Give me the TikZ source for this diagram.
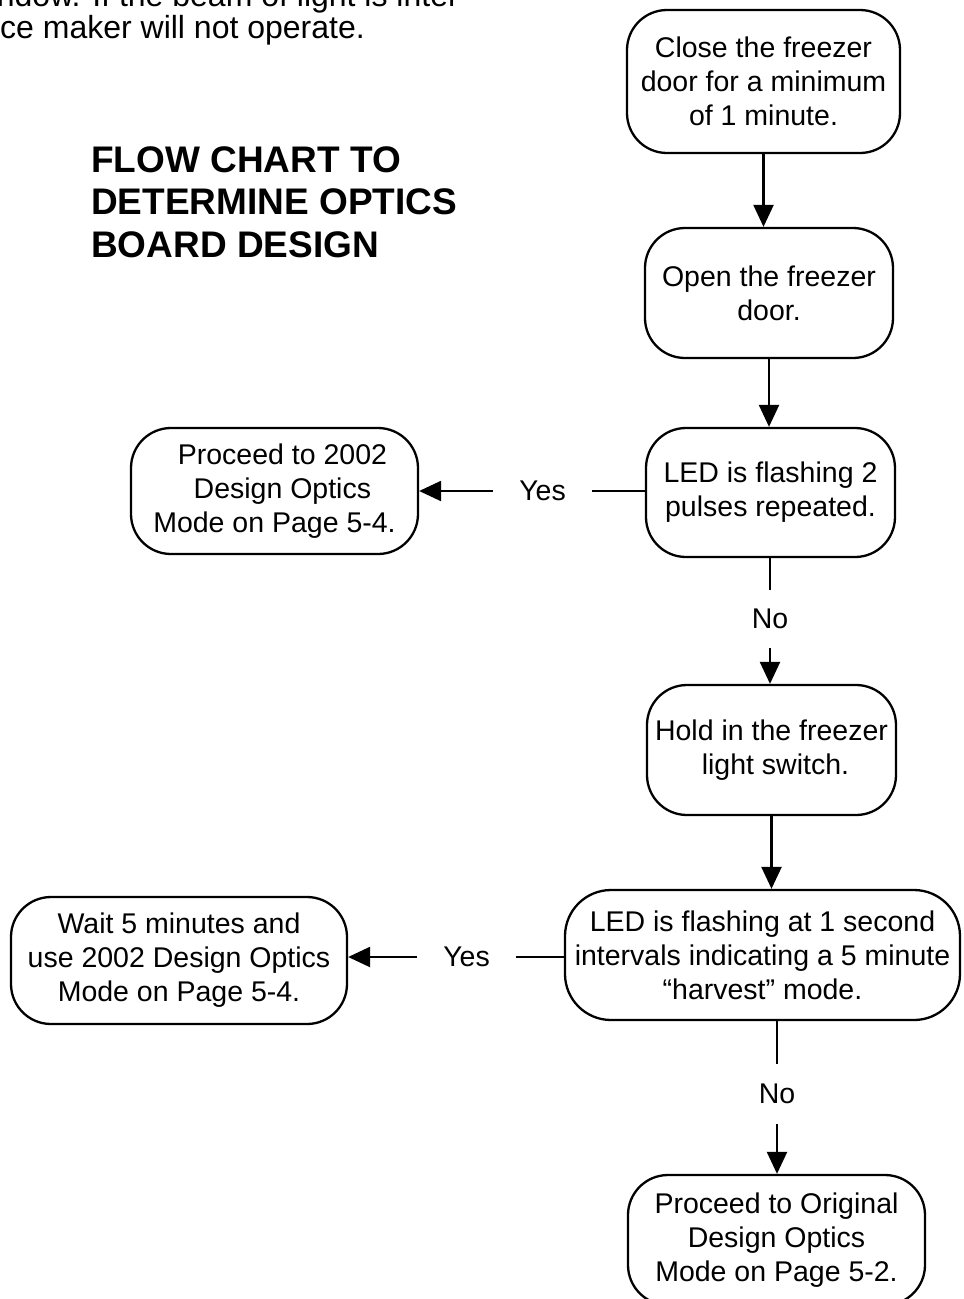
\documentclass[tikz,border=0pt]{standalone}
\usepackage{fontspec}
\setmainfont{Liberation Sans}
\usetikzlibrary{arrows.meta}
\tikzset{
  flowbox/.style={draw, line width=2.3pt, rounded corners=40pt, align=center,
    inner sep=0pt, font=\fontsize{28.5}{34}\selectfont},
  lbl/.style={inner sep=0pt, font=\fontsize{28.5}{34}\selectfont},
  conn/.style={line width=2.3pt},
  arr/.style={line width=2.3pt, -{Triangle[length=22pt,width=20pt]}},
}
\begin{document}
\begin{tikzpicture}[x=1pt,y=-1pt]
\clip (0,0) rectangle (964,1299);
\fill[white] (0,0) rectangle (964,1299);

% cut-off running text at the top
\node[anchor=base east, inner sep=0pt, font=\fontsize{32}{33}\selectfont] (top1) at (459,6) {window. If the beam of light is inter};
\node[anchor=base west, inner sep=0pt, font=\fontsize{32}{33}\selectfont] (top2) at (0,38) {ce maker will not operate.};

% title
\node[anchor=west, align=left, inner sep=0pt, font=\fontsize{37}{42.5}\selectfont\bfseries] (title) at (91,202) {FLOW CHART TO\\DETERMINE OPTICS\\BOARD DESIGN};

% boxes
\node[flowbox, minimum width=273pt, minimum height=143pt] (b1) at (763.5,81.5) {Close the freezer\\door for a minimum\\of 1 minute.};
\node[flowbox, minimum width=248pt, minimum height=130pt] (b2) at (769,293) {Open the freezer\\door.};
\node[flowbox, minimum width=249pt, minimum height=129pt] (b3) at (770.5,492.5) {LED is flashing 2\\pulses repeated.};
\node[flowbox, minimum width=287pt, minimum height=126pt] (p2002) at (274.5,491) {\ \ Proceed to 2002\\\ \ Design Optics\\Mode on Page 5-4.};
\node[flowbox, minimum width=249pt, minimum height=130pt] (b4) at (771.5,750) {Hold in the freezer\\\ light switch.};
\node[flowbox, minimum width=395pt, minimum height=130pt, rounded corners=46pt] (b5) at (762.5,955) {LED is flashing at 1 second\\intervals indicating a 5 minute\\``harvest'' mode.};
\node[flowbox, minimum width=336pt, minimum height=127pt] (wait) at (179,960.5) {Wait 5 minutes and\\use 2002 Design Optics\\Mode on Page 5-4.};
\node[flowbox, minimum width=297pt, minimum height=130pt] (b6) at (776.5,1240) {Proceed to Original\\Design Optics\\Mode on Page 5-2.};

% labels
\node[lbl, minimum height=58pt] (no1) at (770,619) {No};
\node[lbl, minimum height=60pt] (no2) at (777,1094) {No};
\node[lbl, minimum width=99pt] (yes1) at (542.5,491) {Yes};
\node[lbl, minimum width=99pt] (yes2) at (466.5,957) {Yes};

% connectors
\draw[arr] (b1.south) -- (b1.south |- b2.north);
\draw[arr] (b2.south) -- (b2.south |- b3.north);
\draw[conn] (no1 |- b3.south) -- (no1.north);
\draw[arr] (no1.south) -- (no1.south |- b4.north);
\draw[arr] (b4.south) -- (b4.south |- b5.north);
\draw[conn] (no2 |- b5.south) -- (no2.north);
\draw[arr] (no2.south) -- (no2.south |- b6.north);
\draw[conn] (yes1.east -| b3.west) -- (yes1.east);
\draw[arr] (yes1.west) -- (yes1.west -| p2002.east);
\draw[conn] (yes2.east -| b5.west) -- (yes2.east);
\draw[arr] (yes2.west) -- (yes2.west -| wait.east);
\end{tikzpicture}
\end{document}
